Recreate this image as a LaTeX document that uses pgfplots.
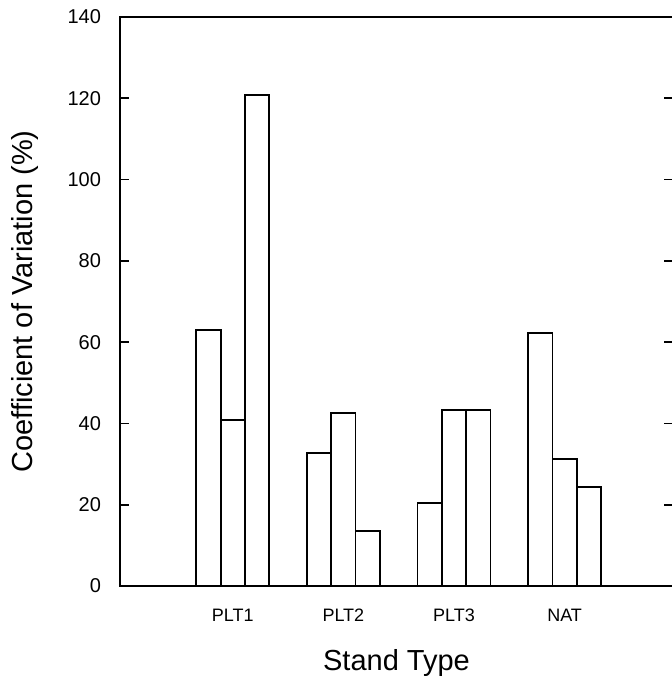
\documentclass[border=0pt]{standalone}
\usepackage{fontspec}
\setmainfont{Liberation Sans}
\usepackage{pgfplots}
\pgfplotsset{compat=1.18}
\begin{document}
\begin{tikzpicture}
\useasboundingbox (-60pt,-47.5pt) rectangle (276pt,293pt);
\begin{axis}[
  scale only axis,
  width=276.5pt, height=284.5pt,
  at={(0,0)}, anchor=south west,
  xmin=-0.02, xmax=4.98,
  ymin=0, ymax=140,
  ytick={0,20,...,140},
  xtick={1,2,3,4},
  xticklabels={PLT1,PLT2,PLT3,NAT},
  x tick style={draw=none},
  y tick style={black, line width=0.9pt},
  major tick length=4.5pt,
  tick align=inside,
  axis line style={line width=1pt},
  yticklabel style={font=\fontsize{10}{12}\selectfont, xshift=-6pt},
  xticklabel style={font=\fontsize{9}{11}\selectfont, yshift=-3.5pt},
  /pgf/number format/assume math mode=true,
  ylabel={Coefficient of Variation (\%)},
  xlabel={Stand Type},
  ylabel style={font=\fontsize{14.5}{16}\selectfont, yshift=7.5pt},
  xlabel style={font=\fontsize{14.5}{16}\selectfont, yshift=-7pt},
  ybar, bar width=0.22,
  every axis plot/.append style={draw=black, fill=white, line width=0.9pt},
]
\addplot[ybar, bar shift=-0.22, draw=black, fill=white] coordinates {(1,63) (2,32.7) (3,20.4) (4,62.2)};
\addplot[ybar, bar shift=0, draw=black, fill=white] coordinates {(1,40.8) (2,42.6) (3,43.4) (4,31.2)};
\addplot[ybar, bar shift=0.22, draw=black, fill=white] coordinates {(1,120.8) (2,13.5) (3,43.4) (4,24.3)};
\end{axis}
\end{tikzpicture}
\end{document}
